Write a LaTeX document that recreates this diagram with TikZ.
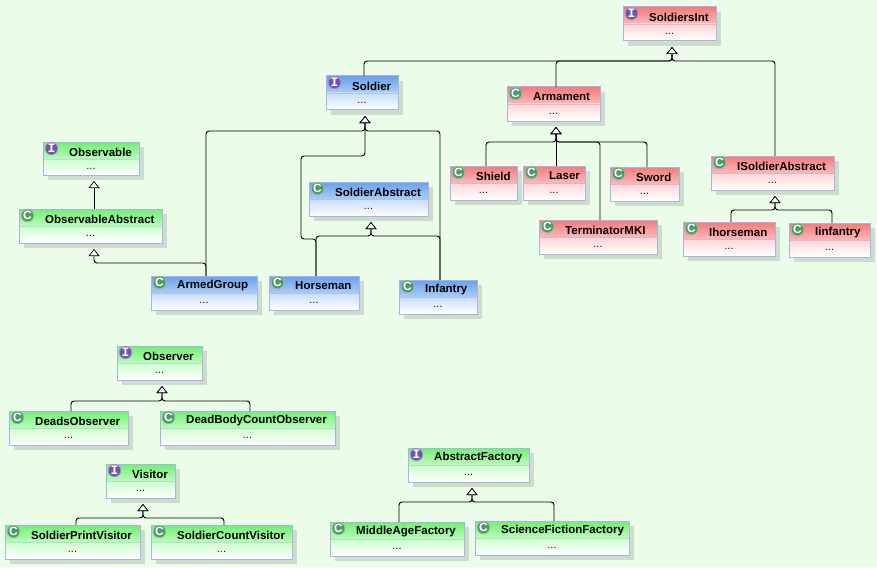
\documentclass[tikz,border=0pt]{standalone}
\usepackage{fontspec}
\setmainfont{Liberation Sans}
\newfontfamily\iconmono{Liberation Mono}
\usetikzlibrary{arrows.meta}
\definecolor{bgc}{HTML}{EBFDE9}
\definecolor{shadowc}{HTML}{CDDCCB}
\definecolor{borderc}{HTML}{A5B5EA}
\definecolor{redA}{HTML}{F47A7A}\definecolor{redB}{HTML}{FFB8B8}\definecolor{redC}{HTML}{FFD6D6}
\definecolor{grnA}{HTML}{70F070}\definecolor{grnB}{HTML}{BCFBBC}\definecolor{grnC}{HTML}{CFFCCF}
\definecolor{bluA}{HTML}{6AA0EC}\definecolor{bluB}{HTML}{ACCDF6}\definecolor{bluC}{HTML}{C8DDF8}
\definecolor{icoG}{HTML}{4E9A68}\definecolor{icoI}{HTML}{6E55AE}
\tikzset{
  x=1pt,y=-1pt,
  classbox/.style={draw=borderc,line width=1pt,rectangle,inner sep=0pt,outer sep=0pt},
  classname/.style={anchor=west,inner sep=0pt,font=\fontsize{11.5}{13}\selectfont\bfseries,text=black},
  classdots/.style={inner sep=0pt,font=\fontsize{11}{13}\selectfont,text=black!75!red},
  classicon/.style={circle,inner sep=0pt,minimum size=12.5pt,text=white,line width=.7pt},
  iconC/.style={classicon,fill=icoG,draw=icoG!65!white,font=\fontsize{12}{12}\selectfont\bfseries},
  iconI/.style={classicon,fill=icoI,draw=icoI!65!white,font=\fontsize{13}{13}\selectfont\bfseries\iconmono},
  edge/.style={draw=black,line width=.95pt,rounded corners=3pt,shorten >=6pt,
    -{Triangle[fill=white,length=7pt,width=11pt,line width=.7pt]}},
}
% name, x1, y1, x2, y2, label, palette, icon letter, icon style
\newcommand{\umlclass}[9]{%
  \fill[shadowc] (#2+5,#3+5) rectangle (#4+5,#5+5);
  \shade[top color=#7A,bottom color=#7B] (#2,#3) rectangle (#4,#3+17);
  \shade[top color=#7C,bottom color=white] (#2,#3+17) rectangle (#4,#5);
  \draw[#7B!60!borderc,line width=.8pt] (#2,#3+17) -- (#4,#3+17);
  \node[classbox,minimum width=#4pt-#2pt,minimum height=#5pt-#3pt] (#1) at ({(#2+#4)/2},{(#3+#5)/2}) {};
  \node[#9] (#1-icon) at (#2+8.5,#3+6.5) {#8};
  \node[classname] (#1-name) at (#2+26,#3+10) {#6};
  \node[classdots] (#1-dots) at ({(#2+#4)/2},#3+26.5) {...};
}
\begin{document}
\begin{tikzpicture}
\useasboundingbox (0,0) rectangle (877,567);
\fill[bgc] (0,0) rectangle (877,567);
\umlclass{soldiersint}{623}{7}{716}{41}{SoldiersInt}{red}{I}{iconI}
\umlclass{observable}{43}{142}{139}{175}{Observable}{grn}{I}{iconI}
\umlclass{obsabstract}{19}{209}{162}{243}{ObservableAbstract}{grn}{C}{iconC}
\umlclass{armed}{151}{276}{257}{310}{ArmedGroup}{blu}{C}{iconC}
\umlclass{soldier}{326}{76}{398}{110}{Soldier}{blu}{I}{iconI}
\umlclass{solabstract}{309}{182}{428}{216}{SoldierAbstract}{blu}{C}{iconC}
\umlclass{horseman}{269}{276}{359}{310}{Horseman}{blu}{C}{iconC}
\umlclass{infantry}{399}{280}{477}{314}{Infantry}{blu}{C}{iconC}
\umlclass{armament}{507}{87}{600}{121}{Armament}{red}{C}{iconC}
\umlclass{shield}{450}{166}{517}{200}{Shield}{red}{C}{iconC}
\umlclass{laser}{523}{166}{585}{200}{Laser}{red}{C}{iconC}
\umlclass{sword}{610}{167}{679}{201}{Sword}{red}{C}{iconC}
\umlclass{terminator}{539}{220}{657}{254}{TerminatorMKI}{red}{C}{iconC}
\umlclass{isoldier}{711}{156}{834}{190}{ISoldierAbstract}{red}{C}{iconC}
\umlclass{ihorseman}{683}{222}{775}{256}{Ihorseman}{red}{C}{iconC}
\umlclass{iinfantry}{789}{223}{870}{257}{Iinfantry}{red}{C}{iconC}
\umlclass{observer}{117}{346}{202}{380}{Observer}{grn}{I}{iconI}
\umlclass{deads}{9}{411}{128}{445}{DeadsObserver}{grn}{C}{iconC}
\umlclass{deadbody}{160}{411}{335}{445}{DeadBodyCountObserver}{grn}{C}{iconC}
\umlclass{visitor}{106}{464}{175}{498}{Visitor}{grn}{I}{iconI}
\umlclass{printvis}{5}{525}{140}{559}{SoldierPrintVisitor}{grn}{C}{iconC}
\umlclass{countvis}{151}{525}{292}{559}{SoldierCountVisitor}{grn}{C}{iconC}
\umlclass{absfactory}{408}{448}{529}{482}{AbstractFactory}{grn}{I}{iconI}
\umlclass{midage}{330}{522}{464}{556}{MiddleAgeFactory}{grn}{C}{iconC}
\umlclass{scifi}{475}{521}{629}{555}{ScienceFictionFactory}{grn}{C}{iconC}
% SoldiersInt
\draw[edge] ([xshift=38pt]soldier.north west) -- (364,61) -- (672,61) -- ([xshift=49pt]soldiersint.south west);
\draw[edge] ([xshift=49pt]armament.north west) -- (556,61) -- (672,61) -- ([xshift=49pt]soldiersint.south west);
\draw[edge] ([xshift=64pt]isoldier.north west) -- (775,61) -- (672,61) -- ([xshift=49pt]soldiersint.south west);
% Soldier
\draw[edge] ([xshift=55pt]armed.north west) -- (206,131) -- (365,131) -- ([xshift=39pt]soldier.south west);
\draw[edge] ([xshift=41pt]infantry.north west) -- (440,131) -- (365,131) -- ([xshift=39pt]soldier.south west);
\draw[edge] ([xshift=47pt]horseman.north west) -- (316,239) -- (301,239) -- (301,156) -- (365,156) -- ([xshift=39pt]soldier.south west);
% SoldierAbstract
\draw[edge] ([xshift=47pt]horseman.north west) -- (316,236) -- (371,236) -- ([xshift=62pt]solabstract.south west);
\draw[edge] ([xshift=41pt]infantry.north west) -- (440,236) -- (371,236) -- ([xshift=62pt]solabstract.south west);
% Observable
\draw[edge] ([xshift=75pt]obsabstract.north west) -- ([xshift=51pt]observable.south west);
\draw[edge] ([xshift=55pt]armed.north west) -- (206,263) -- (94,263) -- ([xshift=75pt]obsabstract.south west);
% Armament
\draw[edge] ([xshift=36pt]shield.north west) -- (486,142) -- (556,142) -- ([xshift=49pt]armament.south west);
\draw[edge] ([xshift=33pt]laser.north west) -- ([xshift=49pt]armament.south west);
\draw[edge] ([xshift=61pt]terminator.north west) -- (600,142) -- (556,142) -- ([xshift=49pt]armament.south west);
\draw[edge] ([xshift=37pt]sword.north west) -- (647,142) -- (556,142) -- ([xshift=49pt]armament.south west);
% ISoldierAbstract
\draw[edge] ([xshift=48pt]ihorseman.north west) -- (731,210) -- (775,210) -- ([xshift=64pt]isoldier.south west);
\draw[edge] ([xshift=43pt]iinfantry.north west) -- (832,210) -- (775,210) -- ([xshift=64pt]isoldier.south west);
% Observer
\draw[edge] ([xshift=62pt]deads.north west) -- (71,401) -- (162,401) -- ([xshift=45pt]observer.south west);
\draw[edge] ([xshift=90pt]deadbody.north west) -- (250,401) -- (162,401) -- ([xshift=45pt]observer.south west);
% Visitor
\draw[edge] ([xshift=71pt]printvis.north west) -- (76,518) -- (143,518) -- ([xshift=37pt]visitor.south west);
\draw[edge] ([xshift=73pt]countvis.north west) -- (224,518) -- (143,518) -- ([xshift=37pt]visitor.south west);
% AbstractFactory
\draw[edge] ([xshift=69pt]midage.north west) -- (399,502) -- (472,502) -- ([xshift=64pt]absfactory.south west);
\draw[edge] ([xshift=79pt]scifi.north west) -- (554,502) -- (472,502) -- ([xshift=64pt]absfactory.south west);
\end{tikzpicture}
\end{document}
